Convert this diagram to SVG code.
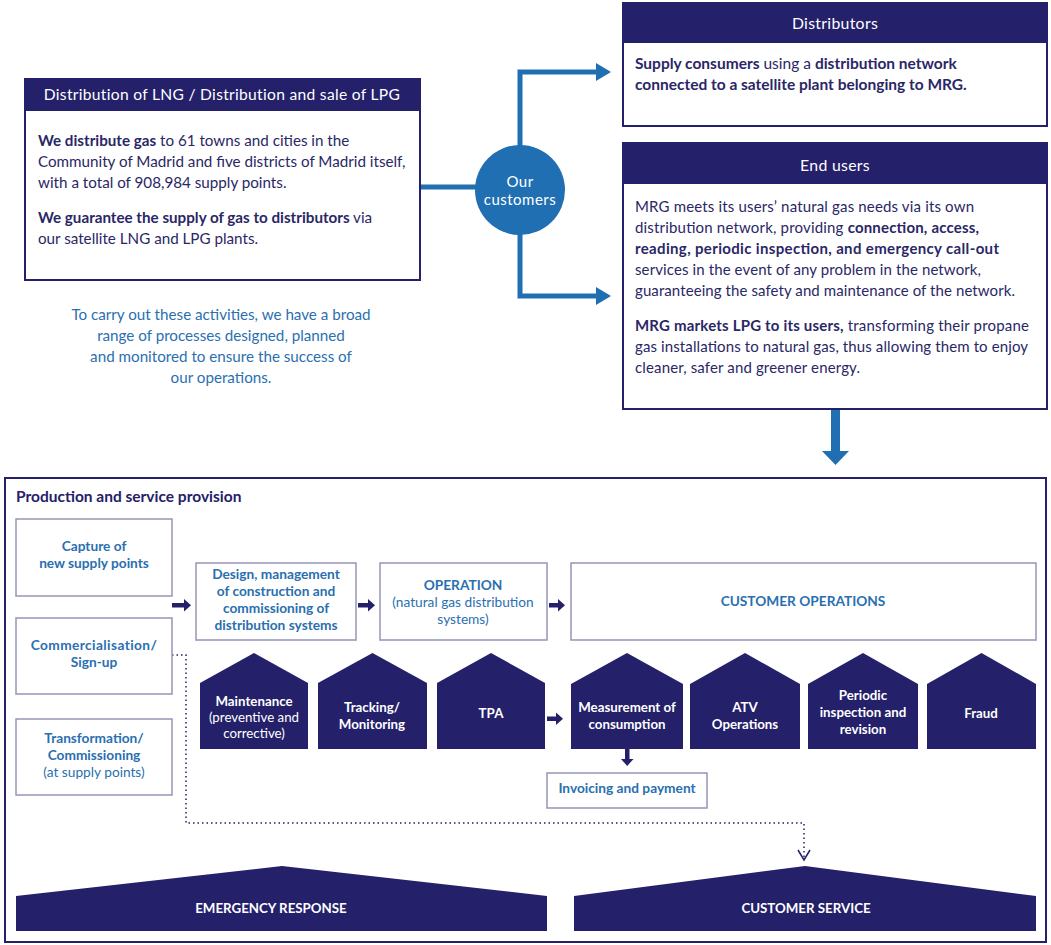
<svg xmlns="http://www.w3.org/2000/svg" width="1051" height="945" viewBox="0 0 1051 945">
<style>
text{font-family:Lato,"Open Sans","Liberation Sans",sans-serif;}
.hdr{fill:#24206a;}
.box{fill:#fff;stroke:#24206a;stroke-width:2;}
.lbox{fill:#fff;stroke:#9694b8;stroke-width:1.5;}
.ht{fill:#fff;font-size:15.8px;text-anchor:middle;letter-spacing:0.3px;}
.bt{fill:#2a2766;font-size:15px;}
.bl{fill:#2a2766;font-size:15.2px;}
.bd{fill:#2a2766;font-size:15.5px;}
.b{font-weight:bold;}
.blue{fill:#2a6fb0;font-size:13.7px;text-anchor:middle;}
.note{fill:#2a6fb0;font-size:15.2px;text-anchor:middle;}
.pent{fill:#24206a;}
.pt{fill:#fff;font-size:13.3px;text-anchor:middle;}
.conn{fill:none;stroke:#1f6fb2;stroke-width:5;}
.dot{fill:none;stroke:#24206a;stroke-width:1.5;stroke-dasharray:1.5 3;}
</style>

<g id="connectors">
  <line class="conn" x1="420" y1="187" x2="480" y2="187"/>
  <polyline class="conn" points="520,150 520,72 598,72"/>
  <polygon points="596,63 611,72 596,81" fill="#1f6fb2"/>
  <polyline class="conn" points="520,230 520,296 598,296"/>
  <polygon points="596,287 611,296 596,305" fill="#1f6fb2"/>
  <rect x="831" y="410" width="9" height="43" fill="#1f6fb2"/>
  <polygon points="822,451 849,451 835.5,465" fill="#1f6fb2"/>
  <g fill="#24206a">
    <rect x="172" y="603" width="14" height="4.5"/><polygon points="184,599 191,605.2 184,611.5"/>
    <rect x="358" y="603" width="12" height="4.5"/><polygon points="368,599 375,605.2 368,611.5"/>
    <rect x="549" y="603" width="11" height="4.5"/><polygon points="558,599 565,605.2 558,611.5"/>
    <rect x="547" y="716.5" width="11" height="4.5"/><polygon points="556,712.5 563,718.8 556,725"/>
    <rect x="625" y="749" width="4.5" height="12"/><polygon points="621,759 633.5,759 627.2,766"/>
  </g>
  <polyline class="dot" points="172,655 186,655 186,823 804,823 804,858"/>
  <polyline points="798,850 804,860 810,850" fill="none" stroke="#24206a" stroke-width="1.5"/>
</g>

<g id="lng-box">
  <rect class="box" x="25" y="79" width="395" height="201"/>
  <rect class="hdr" x="25" y="79" width="395" height="32"/>
  <text class="ht" x="222" y="100" style="font-size:15.6px">Distribution of LNG / Distribution and sale of LPG</text>
  <text class="bl" x="38" y="146"><tspan class="b">We distribute gas</tspan> to 61 towns and cities in the</text>
  <text class="bl" x="38" y="167">Community of Madrid and five districts of Madrid itself,</text>
  <text class="bl" x="38" y="188">with a total of 908,984 supply points.</text>
  <text class="bl" x="38" y="223"><tspan class="b">We guarantee the supply of gas to distributors</tspan> via</text>
  <text class="bl" x="38" y="244">our satellite LNG and LPG plants.</text>
</g>

<g id="note">
  <text class="note" x="221" y="320">To carry out these activities, we have a broad</text>
  <text class="note" x="221" y="341">range of processes designed, planned</text>
  <text class="note" x="221" y="362">and monitored to ensure the success of</text>
  <text class="note" x="221" y="383">our operations.</text>
</g>

<g id="our-customers">
  <circle cx="520" cy="190" r="45" fill="#1f6fb2"/>
  <text x="520" y="187" fill="#fff" font-size="15" text-anchor="middle" letter-spacing="0.5">Our</text>
  <text x="520" y="205" fill="#fff" font-size="15" text-anchor="middle" letter-spacing="0.5">customers</text>
</g>

<g id="distributors">
  <rect class="box" x="623" y="3" width="424" height="123"/>
  <rect class="hdr" x="623" y="3" width="424" height="40"/>
  <text class="ht" x="835" y="29">Distributors</text>
  <text class="bd" x="635" y="69"><tspan class="b">Supply consumers</tspan> using a <tspan class="b">distribution network</tspan></text>
  <text class="bd b" x="635" y="90">connected to a satellite plant belonging to MRG.</text>
</g>

<g id="end-users">
  <rect class="box" x="623" y="143" width="424" height="266"/>
  <rect class="hdr" x="623" y="143" width="424" height="41"/>
  <text class="ht" x="835" y="171">End users</text>
  <text class="bt" x="635" y="212" textLength="339" lengthAdjust="spacing">MRG meets its users’ natural gas needs via its own</text>
  <text class="bt" x="635" y="233" textLength="344" lengthAdjust="spacing">distribution network, providing <tspan class="b">connection, access,</tspan></text>
  <text class="bt b" x="635" y="254" textLength="364" lengthAdjust="spacing">reading, periodic inspection, and emergency call-out</text>
  <text class="bt" x="635" y="275" textLength="346" lengthAdjust="spacing">services in the event of any problem in the network,</text>
  <text class="bt" x="635" y="296" textLength="380" lengthAdjust="spacing">guaranteeing the safety and maintenance of the network.</text>
  <text class="bt" x="635" y="331" textLength="394" lengthAdjust="spacing"><tspan class="b">MRG markets LPG to its users,</tspan> transforming their propane</text>
  <text class="bt" x="635" y="352" textLength="393" lengthAdjust="spacing">gas installations to natural gas, thus allowing them to enjoy</text>
  <text class="bt" x="635" y="373" textLength="225" lengthAdjust="spacing">cleaner, safer and greener energy.</text>
</g>

<g id="production">
  <rect x="5" y="478" width="1041" height="464" fill="none" stroke="#24206a" stroke-width="2"/>
  <text x="16" y="502" fill="#24206a" font-size="15.5" font-weight="bold">Production and service provision</text>
</g>

<g id="capture">
  <rect class="lbox" x="16" y="519" width="156" height="77"/>
  <text class="blue b" x="94" y="551">Capture of</text>
  <text class="blue b" x="94" y="568">new supply points</text>
</g>
<g id="commercialisation">
  <rect class="lbox" x="16" y="618" width="156" height="76"/>
  <text class="blue b" x="94" y="650" letter-spacing="0.4">Commercialisation/</text>
  <text class="blue b" x="94" y="667">Sign-up</text>
</g>
<g id="transformation">
  <rect class="lbox" x="16" y="719" width="156" height="76"/>
  <text class="blue b" x="94" y="743">Transformation/</text>
  <text class="blue b" x="94" y="760">Commissioning</text>
  <text class="blue" x="94" y="777">(at supply points)</text>
</g>
<g id="design">
  <rect class="lbox" x="196" y="563" width="160" height="77"/>
  <text class="blue b" x="276" y="579">Design, management</text>
  <text class="blue b" x="276" y="596">of construction and</text>
  <text class="blue b" x="276" y="613">commissioning of</text>
  <text class="blue b" x="276" y="630">distribution systems</text>
</g>
<g id="operation">
  <rect class="lbox" x="380" y="563" width="167" height="77"/>
  <text class="blue b" x="463" y="590">OPERATION</text>
  <text class="blue" x="463" y="607">(natural gas distribution</text>
  <text class="blue" x="463" y="624">systems)</text>
</g>
<g id="customer-operations">
  <rect class="lbox" x="571" y="563" width="465" height="77"/>
  <text class="blue b" x="803" y="606">CUSTOMER OPERATIONS</text>
</g>

<g id="maintenance">
  <polygon class="pent" points="200,683 254,653 308,683 308,749 200,749"/>
  <text class="pt b" x="254" y="706">Maintenance</text>
  <text class="pt" x="254" y="722">(preventive and</text>
  <text class="pt" x="254" y="738">corrective)</text>
</g>
<g id="tracking">
  <polygon class="pent" points="318,683 372.5,653 427,683 427,749 318,749"/>
  <text class="pt b" x="372" y="712">Tracking/</text>
  <text class="pt b" x="372" y="729">Monitoring</text>
</g>
<g id="tpa">
  <polygon class="pent" points="437,683 491,653 545,683 545,749 437,749"/>
  <text class="pt b" x="491" y="718">TPA</text>
</g>
<g id="measurement">
  <polygon class="pent" points="571,684 627,653 683,684 683,749 571,749"/>
  <text class="pt b" x="627" y="712">Measurement of</text>
  <text class="pt b" x="627" y="729">consumption</text>
</g>
<g id="atv">
  <polygon class="pent" points="690,684 745,653 800,684 800,749 690,749"/>
  <text class="pt b" x="745" y="712">ATV</text>
  <text class="pt b" x="745" y="729">Operations</text>
</g>
<g id="periodic">
  <polygon class="pent" points="808,684 863,653 918,684 918,749 808,749"/>
  <text class="pt b" x="863" y="700">Periodic</text>
  <text class="pt b" x="863" y="717">inspection and</text>
  <text class="pt b" x="863" y="734">revision</text>
</g>
<g id="fraud">
  <polygon class="pent" points="927,684 981.5,653 1036,684 1036,749 927,749"/>
  <text class="pt b" x="981" y="718">Fraud</text>
</g>
<g id="invoicing">
  <rect class="lbox" x="547" y="773" width="160" height="35"/>
  <text class="blue b" x="627" y="793">Invoicing and payment</text>
</g>

<g id="emergency">
  <polygon class="pent" points="16,896 282,866 547,896 547,931 16,931"/>
  <text class="pt b" x="271" y="913">EMERGENCY RESPONSE</text>
</g>
<g id="customer-service">
  <polygon class="pent" points="574,896 805,866 1036,896 1036,931 574,931"/>
  <text class="pt b" x="806" y="913">CUSTOMER SERVICE</text>
</g>
</svg>
